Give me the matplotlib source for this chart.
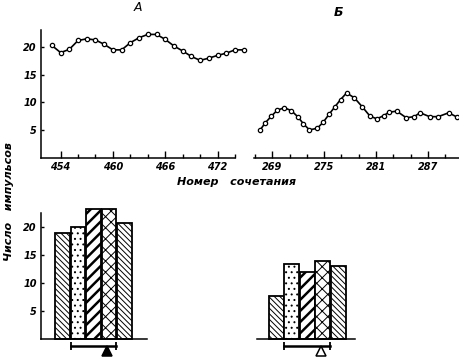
import numpy as np
import matplotlib
matplotlib.use('Agg')
import matplotlib.pyplot as plt
from matplotlib.ticker import FixedLocator

plt.rcParams['font.family'] = ['DejaVu Sans']
plt.rcParams['font.style'] = 'italic'
plt.rcParams['font.weight'] = 'bold'

# series A
a_x = np.arange(453, 476)
a_y = [20.3, 19.0, 19.6, 21.2, 21.5, 21.3, 20.5, 19.5, 19.5, 20.8, 21.7, 22.3,
       22.3, 21.4, 20.2, 19.3, 18.3, 17.6, 18.0, 18.5, 18.9, 19.5, 19.5]

# series Б
b_x = [267.6, 268.2, 268.9, 269.6, 270.4, 271.2, 272.0, 272.6, 273.3, 274.2,
       274.9, 275.6, 276.2, 276.9, 277.6, 278.5, 279.4, 280.3, 281.1, 281.9,
       282.5, 283.4, 284.5, 285.4, 286.1, 287.2, 288.2, 289.4, 290.4]
b_y = [5.0, 6.3, 7.5, 8.6, 9.0, 8.5, 7.3, 6.1, 5.0, 5.3,
       6.4, 7.9, 9.1, 10.5, 11.7, 10.8, 9.2, 7.5, 7.0, 7.6,
       8.2, 8.4, 7.2, 7.4, 8.1, 7.4, 7.4, 8.1, 7.3]

# bar groups
bars_a = [18.9, 20.1, 23.3, 23.3, 20.7]
bars_b = [7.6, 13.4, 11.9, 14.0, 13.1]
hatches = ['\\\\\\\\\\\\', '...', '///', 'xxx', '\\\\\\\\\\\\']
hatch_lw = [0.7, 0.7, 1.8, 0.7, 0.7]

a_ticks = np.arange(454, 475, 2)
a_labels = [454, 460, 466, 472]
b_ticks = np.arange(267, 290, 2)
b_labels = [269, 275, 281, 287]
y_ticks = [5, 10, 15, 20]

# scale marks under the bars: span and triangle position (bar units)
span_a = [0.55, 3.45]
tri_a = 2.85
span_b = [0.53, 3.46]
tri_b = 2.88

W, H = 460, 359
fig = plt.figure(figsize=(W / 100, H / 100), dpi=100)


def px_axes(left, top, right, bottom):
    return fig.add_axes([left / W, 1 - bottom / H, (right - left) / W, (bottom - top) / H])


def style_line_ax(ax, ticks, labels):
    for s in ['top', 'right']:
        ax.spines[s].set_visible(False)
    ax.xaxis.set_major_locator(FixedLocator(labels))
    ax.xaxis.set_minor_locator(FixedLocator([t for t in ticks if t not in labels]))
    ax.tick_params(axis='x', which='major', direction='in', length=5, width=1, labelsize=7, pad=3)
    ax.tick_params(axis='x', which='minor', direction='in', length=3, width=1)
    ax.set_ylim(0, 23.1)


# top left (A)
ax1 = px_axes(41, 30, 235, 157.5)
ax1.set_xlim(451.75, 474)
ax1.plot(a_x, a_y, '-o', color='black', lw=1.2, ms=3.1, mfc='white', mec='black', mew=0.9, clip_on=False)
style_line_ax(ax1, a_ticks, a_labels)
ax1.yaxis.set_major_locator(FixedLocator(y_ticks))
ax1.tick_params(axis='y', direction='in', length=2, width=1, labelsize=7, pad=3)
ax1.set_title('А', fontsize=9, pad=14)

# top right (Б)
ax2 = px_axes(253.7, 30, 459, 157.5)
ax2.set_xlim(266.85, 290.6)
ax2.plot(b_x, b_y, '-o', color='black', lw=1.2, ms=3.1, mfc='white', mec='black', mew=0.9, clip_on=False)
style_line_ax(ax2, b_ticks, b_labels)
ax2.spines['left'].set_visible(False)
ax2.set_yticks([])

fig.text(338 / W, 1 - 13 / H, 'Б', fontsize=9, ha='center', va='center')
fig.text(237 / W, 1 - 182 / H, 'Номер   сочетания', fontsize=8, ha='center', va='center')
fig.text(9 / W, 1 - 202 / H, 'Число   импульсов', fontsize=8, ha='center', va='center', rotation=90)


def bar_ax(ax, vals, span, tri, filled):
    pos = np.arange(len(vals))
    for i, v in enumerate(vals):
        b = ax.bar(pos[i], v, width=0.96, color='white', edgecolor='black', lw=1.3,
                   hatch=hatches[i], clip_on=False)[0]
        b.set_hatch_linewidth(hatch_lw[i])
    for s in ['top', 'right']:
        ax.spines[s].set_visible(False)
    ax.plot(span, [-1.3, -1.3], color='black', lw=1.8, clip_on=False)
    ax.plot(span, [-1.3, -1.3], ls='none', marker='|', ms=6, mew=1.3, color='black', clip_on=False)
    ax.plot([tri], [-2.3], ls='none', marker='^', ms=6.5, mew=1.1, mec='black',
            mfc='black' if filled else 'white', clip_on=False)


ax3 = px_axes(41, 200, 146.7, 338.5)
ax3.set_xlim(-1.39, 5.43)
ax3.set_ylim(0, 24.9)
bar_ax(ax3, bars_a, span_a, tri_a, True)
ax3.spines['left'].set_bounds(0, 22.6)
ax3.set_xticks([])
ax3.yaxis.set_major_locator(FixedLocator(y_ticks))
ax3.tick_params(axis='y', direction='in', length=2, width=1, labelsize=7, pad=3)

ax4 = px_axes(256.7, 200, 355, 338.5)
ax4.set_xlim(-1.24, 5.06)
ax4.set_ylim(0, 24.9)
bar_ax(ax4, bars_b, span_b, tri_b, False)
ax4.spines['left'].set_visible(False)
ax4.set_xticks([])
ax4.set_yticks([])

for ax in [ax1, ax2, ax3, ax4]:
    ax.patch.set_visible(False)
    for s in ax.spines.values():
        s.set_linewidth(1.1)

fig.savefig('out.png', dpi=100)
